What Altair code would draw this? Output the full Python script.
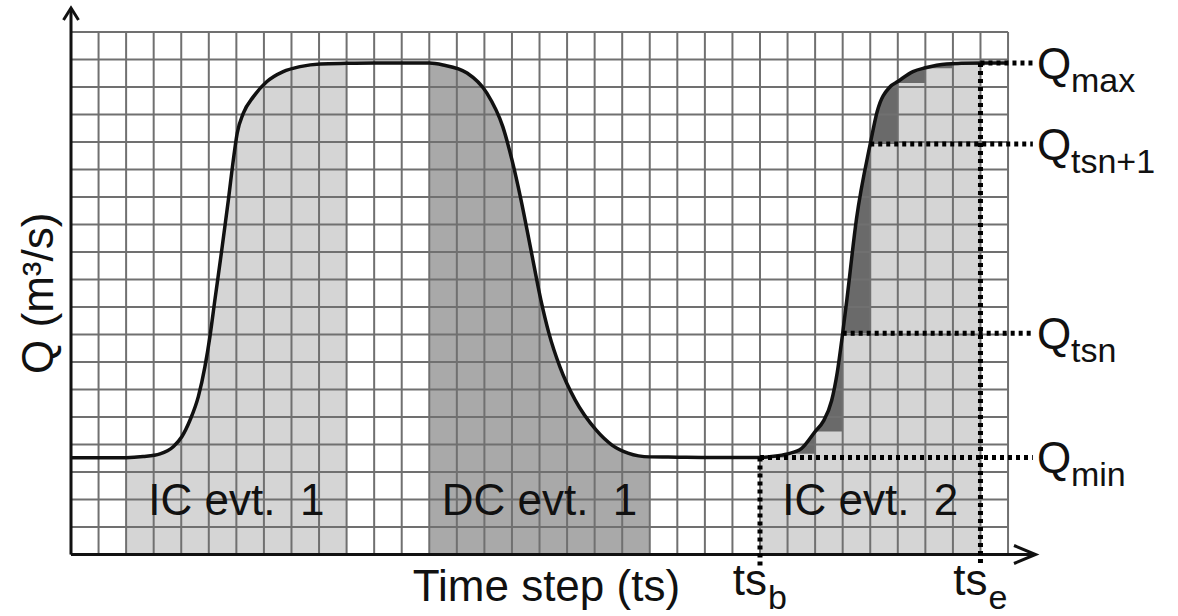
import altair as alt
import pandas as pd

# ---------------- data (grid units: time step, Q) ----------------
curve_t = [0, 1, 2, 2.62, 3.23, 3.71, 4.02, 4.32, 4.62, 4.86, 5.04, 5.22, 5.47, 5.71,
           5.89, 6.03, 6.25, 6.62, 7.10, 7.70, 8.31, 9.04, 10.0, 11.0, 12.0, 13.0,
           13.5, 14.37, 15.09, 15.67, 16.0, 16.33, 16.69, 17.05, 17.34, 17.74, 18.29,
           19.05, 19.63, 20.21, 21.0, 22.0, 23.0,
           24.0, 25.0, 25.5, 26.0, 26.5, 27.0, 27.3, 27.6, 27.8, 28.0, 28.15, 28.5,
           29.0, 29.25, 29.72, 30.0, 30.55, 31.0, 31.77, 32.3, 33.0, 34.0]
curve_q = [3.52, 3.52, 3.52, 3.56, 3.66, 3.92, 4.28, 4.89, 5.74, 6.83, 7.92, 9.25, 11.07, 12.89,
           14.35, 15.32, 16.04, 16.65, 17.19, 17.56, 17.74, 17.84, 17.86, 17.87, 17.87, 17.87,
           17.8, 17.51, 16.78, 15.55, 14.35, 12.89, 11.07, 9.25, 8.05, 6.82, 5.62,
           4.53, 3.98, 3.69, 3.55, 3.54, 3.53,
           3.53, 3.53, 3.57, 3.66, 3.85, 4.47, 4.85, 5.6, 6.6, 8.05, 9.25, 12.2,
           14.93, 16.1, 17.01, 17.2, 17.56, 17.7, 17.84, 17.86, 17.87, 17.87]

ic1_range = [2, 10]
dc1_range = [13, 21]
ic2_range = [25, 33]

step_start = [25, 26, 27, 28, 29, 30, 31, 32]
step_q = [3.53, 3.66, 4.47, 8.05, 14.93, 17.15, 17.68, 17.82]

grid_cols = list(range(0, 35))
grid_rows = list(range(0, 20))

q_names = ["max", "tsn+1", "tsn", "min"]
q_values = [17.87, 14.93, 8.05, 3.53]
q_start = [33, 29, 28, 25]

ts_names = ["b", "e"]
ts_values = [25, 33]
ts_top = [3.53, 17.87]

region_labels = ["IC evt.\u00a0 1", "DC evt.\u00a0 1", "IC evt.\u00a0 2"]
region_centers = [6, 17, 29]

# ---------------- layout ----------------
W, H = 1178, 616
CELL_W, CELL_H = 27.56, 27.5
ORIGIN_X, ORIGIN_Y = 71, 554.5
x_dom = [-ORIGIN_X / CELL_W, (W - ORIGIN_X) / CELL_W]
y_dom = [-(H - ORIGIN_Y) / CELL_H, ORIGIN_Y / CELL_H]
xs = alt.Scale(domain=x_dom, nice=False, zero=False)
ys = alt.Scale(domain=y_dom, nice=False, zero=False)

LIGHT = "#d5d5d5"
MID = "#a9a9a9"
DARK = "#6a6a6a"
GRID = "#707070"
INK = "#111111"
FONT = "Liberation Sans"

def X(f):
    return alt.X(f, type="quantitative", scale=xs, axis=None)

def Y(f):
    return alt.Y(f, type="quantitative", scale=ys, axis=None)

curve_df = pd.DataFrame({"t": curve_t, "q": curve_q})
curve_df["base"] = 0.0

def region_area(rng, color):
    return alt.Chart(curve_df).transform_filter(
        (alt.datum.t >= rng[0]) & (alt.datum.t <= rng[1])
    ).mark_area(color=color, interpolate="monotone", opacity=1).encode(
        x=X("t"), y=Y("q"), y2="base"
    )

area_ic1 = region_area(ic1_range, LIGHT)
area_dc1 = region_area(dc1_range, MID)
area_ic2 = region_area(ic2_range, DARK)

steps_df = pd.DataFrame({"t0": step_start, "q": step_q})
steps_df["t1"] = steps_df["t0"] + 1
steps_df["base"] = 0.0
steps = alt.Chart(steps_df).mark_rect(color=LIGHT, opacity=1).encode(
    x=X("t0"), x2="t1", y=Y("q"), y2="base"
)

vg_df = pd.DataFrame({"t": grid_cols})
vg_df["y0"] = grid_rows[0]
vg_df["y1"] = grid_rows[-1]
vgrid = alt.Chart(vg_df).mark_rule(color=GRID, strokeWidth=2).encode(
    x=X("t"), y=Y("y0"), y2="y1"
)
hg_df = pd.DataFrame({"q": grid_rows})
hg_df["x0"] = grid_cols[0]
hg_df["x1"] = grid_cols[-1]
hgrid = alt.Chart(hg_df).mark_rule(color=GRID, strokeWidth=2).encode(
    y=Y("q"), x=X("x0"), x2="x1"
)

axes_df = pd.DataFrame({"x0": [0, 0], "x1": [35, 0], "y0": [0, 0], "y1": [0, 19.87]})
axes = alt.Chart(axes_df).mark_rule(color=INK, strokeWidth=3).encode(
    x=X("x0"), x2="x1", y=Y("y0"), y2="y1"
)
arrow_x = alt.Chart(pd.DataFrame({"t": [35], "q": [0]})).mark_point(
    shape="M-2.4,-1L0,0L-2.4,1", size=324, filled=False, stroke=INK,
    strokeWidth=3, opacity=1
).encode(x=X("t"), y=Y("q"))
arrow_y = alt.Chart(pd.DataFrame({"t": [0], "q": [19.87]})).mark_point(
    shape="M-1,1.6L0,0L1,1.6", size=225, filled=False, stroke=INK,
    strokeWidth=3, opacity=1
).encode(x=X("t"), y=Y("q"))

curve = alt.Chart(curve_df).mark_line(
    color=INK, strokeWidth=3.5, interpolate="monotone"
).encode(x=X("t"), y=Y("q"))

DOT_END = 34.9
DOT_BOTTOM = -0.42
seg_rows = []
for qs, qv in zip(q_start, q_values):
    seg_rows.append({"x0": qs, "x1": DOT_END, "y0": qv, "y1": qv})
for tv, tt in zip(ts_values, ts_top):
    seg_rows.append({"x0": tv, "x1": tv, "y0": tt, "y1": DOT_BOTTOM})
dots = alt.Chart(pd.DataFrame(seg_rows)).mark_rule(
    color="#000000", strokeWidth=5, strokeDash=[4, 4]
).encode(x=X("x0"), x2="x1", y=Y("y0"), y2="y1")

# ---------------- text ----------------
qlab_df = pd.DataFrame({"t": [35.05] * len(q_values), "q": q_values, "sub": q_names})
q_main = alt.Chart(qlab_df).mark_text(
    text="Q", align="left", baseline="alphabetic", dy=16, fontSize=44, font=FONT, color=INK
).encode(x=X("t"), y=Y("q"))
q_sub = alt.Chart(qlab_df).mark_text(
    align="left", baseline="alphabetic", dx=34, dy=29, fontSize=34, font=FONT, color=INK
).encode(x=X("t"), y=Y("q"), text="sub:N")

tslab_df = pd.DataFrame({"t": ts_values, "q": [0] * len(ts_values), "sub": ts_names})
ts_main = alt.Chart(tslab_df).mark_text(
    text="ts", align="right", baseline="alphabetic", dx=7, dy=40.5, fontSize=44, font=FONT, color=INK
).encode(x=X("t"), y=Y("q"))
ts_sub = alt.Chart(tslab_df).mark_text(
    align="left", baseline="alphabetic", dx=8, dy=54, fontSize=34, font=FONT, color=INK
).encode(x=X("t"), y=Y("q"), text="sub:N")

reg_df = pd.DataFrame({"t": region_centers, "q": [0] * 3, "label": region_labels})
reg_text = alt.Chart(reg_df).mark_text(
    align="center", baseline="alphabetic", dy=-39.5, fontSize=44, font=FONT, color=INK
).encode(x=X("t"), y=Y("q"), text="label:N")

title_df = pd.DataFrame({"t": [17.25], "q": [0], "label": ["Time step (ts)"]})
x_title = alt.Chart(title_df).mark_text(
    align="center", baseline="alphabetic", dy=46.5, fontSize=44, font=FONT, color=INK
).encode(x=X("t"), y=Y("q"), text="label:N")

ytitle_df = pd.DataFrame({"t": [-0.65], "q": [9.5], "label": ["Q (m\u00b3/s)"]})
y_title = alt.Chart(ytitle_df).mark_text(
    align="center", baseline="alphabetic", angle=270, fontSize=44, font=FONT, color=INK
).encode(x=X("t"), y=Y("q"), text="label:N")

chart = alt.layer(
    area_ic1, area_dc1, area_ic2, steps, vgrid, hgrid, curve, axes, arrow_x, arrow_y,
    dots, q_main, q_sub, ts_main, ts_sub, reg_text, x_title, y_title
).properties(
    width=W, height=H, padding=0, autosize=alt.AutoSizeParams(type="none"),
    background="white"
).configure_view(stroke=None)

chart.save("out.html", embed_options={"renderer": "svg", "actions": False})
